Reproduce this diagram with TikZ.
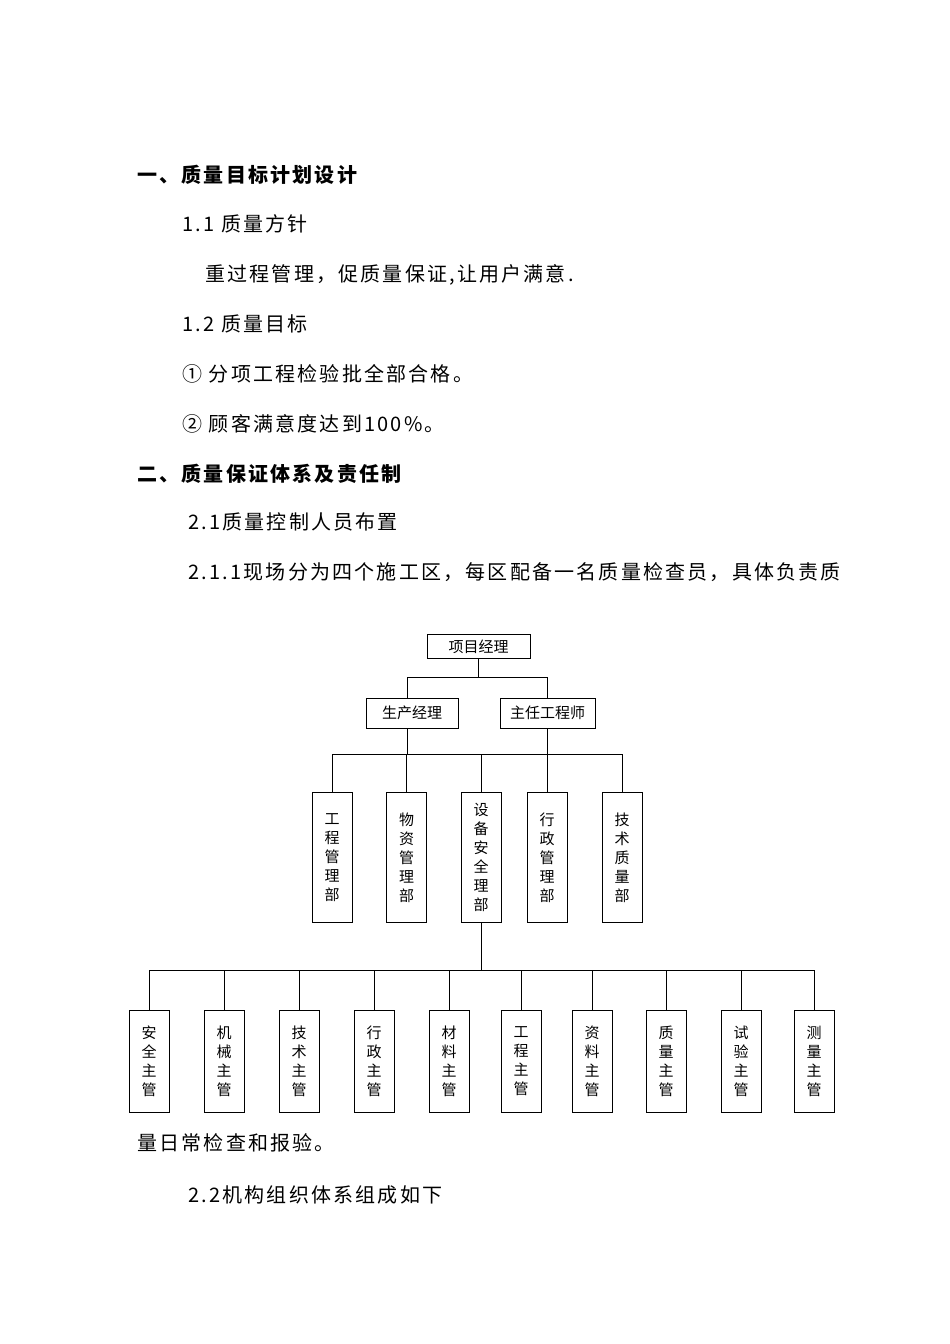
\documentclass[tikz,border=0pt]{standalone}
\usepackage{fontspec}
\newfontfamily\cjk[LetterSpace=11]{Noto Sans CJK SC}
\newfontfamily\cjkc{Noto Sans CJK SC}
\begin{document}
\begin{tikzpicture}[x=1pt,y=-1pt,
  txt/.style={anchor=west,inner sep=0pt,font=\cjk\fontsize{20}{24}\selectfont},
  hd/.style={txt,font=\cjk\bfseries\fontsize{20}{24}\selectfont},
  hbox/.style={draw,line width=1pt,minimum height=24pt,inner sep=0pt,font=\cjkc\fontsize{15}{18}\selectfont},
  vbox/.style={draw,line width=1pt,minimum width=40pt,inner sep=0pt,anchor=north,align=center,font=\cjkc\fontsize{15}{19}\selectfont},
  ln/.style={line width=1pt}]
\useasboundingbox[fill=white] (0,0) rectangle (950,1344);
\node[hd] (h1) at (137,175) {一、质量目标计划设计};
\node[txt] (t1) at (182,224) {1.1 质量方针};
\node[txt] (t2) at (205,275) {重过程管理，促质量保证,让用户满意.};
\node[txt] (t3) at (182,324) {1.2 质量目标};
\node[txt] (t4) at (182,374) {① 分项工程检验批全部合格。};
\node[txt] (t5) at (182,424) {② 顾客满意度达到100\%。};
\node[hd] (h2) at (137,474) {二、质量保证体系及责任制};
\node[txt] (t6) at (188,522) {2.1质量控制人员布置};
\node[txt] (t7) at (188,572) {2.1.1现场分为四个施工区，每区配备一名质量检查员，具体负责质};
\node[txt] (t8) at (137,1143) {量日常检查和报验。};
\node[txt] (t9) at (188,1195) {2.2机构组织体系组成如下};
% chart
\node[hbox,minimum width=103pt] (pm) at (478.5,646.5) {项目经理};
\node[hbox,minimum width=92pt,minimum height=30pt] (sc) at (412,713) {生产经理};
\node[hbox,minimum width=95pt,minimum height=30pt] (zr) at (547.5,713) {主任工程师};
\node[vbox,minimum height=130pt] (d1) at (332,792) {工\\程\\管\\理\\部};
\node[vbox,minimum height=130pt] (d2) at (406.5,792) {物\\资\\管\\理\\部};
\node[vbox,minimum height=130pt] (d3) at (481,792) {设\\备\\安\\全\\理\\部};
\node[vbox,minimum height=130pt] (d4) at (547,792) {行\\政\\管\\理\\部};
\node[vbox,minimum height=130pt] (d5) at (622,792) {技\\术\\质\\量\\部};
\foreach \n/\x/\t in {1/149/安全主管,2/224/机械主管,3/299/技术主管,4/374/行政主管,5/449/材料主管,6/521/工程主管,7/592/资料主管,8/666/质量主管,9/741/试验主管,10/814/测量主管}{
  \node[vbox,minimum height=102pt] (b\n) at (\x,1010) {};
}
\foreach \n/\t in {1/{安\\全\\主\\管},2/{机\\械\\主\\管},3/{技\\术\\主\\管},4/{行\\政\\主\\管},5/{材\\料\\主\\管},6/{工\\程\\主\\管},7/{资\\料\\主\\管},8/{质\\量\\主\\管},9/{试\\验\\主\\管},10/{测\\量\\主\\管}}{
  \node[align=center,inner sep=0pt,font=\cjkc\fontsize{15}{19}\selectfont] at (b\n.center) {\t};
}
\coordinate (j1) at (478.5,677);
\draw[ln] (pm.south) -- (j1);
\draw[ln] (sc.north -| sc.north) ++(-5,0) coordinate (scn) -- (scn |- j1) -- (zr.north |- j1) -- (zr.north);
\coordinate (j2) at (481,754);
\draw[ln] (scn |- sc.south) -- (scn |- j2);
\draw[ln] (zr.south) -- (zr.south |- j2);
\draw[ln] (d1.north) -- (d1.north |- j2) -- (d5.north |- j2) -- (d5.north);
\draw[ln] (d2.north) -- (d2.north |- j2);
\draw[ln] (d3.north) -- (d3.north |- j2);
\draw[ln] (d4.north) -- (d4.north |- j2);
\coordinate (j3) at (481,970);
\draw[ln] (d3.south) -- (j3);
\draw[ln] (b1.north) -- (b1.north |- j3) -- (b10.north |- j3) -- (b10.north);
\foreach \n in {2,...,9}{\draw[ln] (b\n.north) -- (b\n.north |- j3);}
\end{tikzpicture}
\end{document}
